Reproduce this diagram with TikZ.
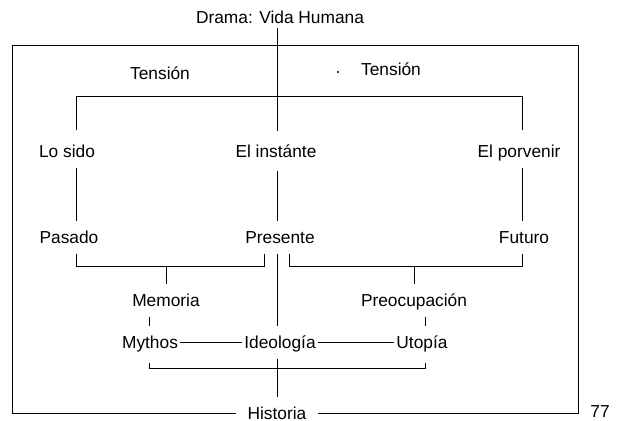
\documentclass[tikz,border=0pt]{standalone}
\usepackage{fontspec}
\setmainfont{Liberation Sans}
\usepackage{xcolor}
\usepackage{tikz}

\begin{document}
\begin{tikzpicture}[x=0.75pt, y=-0.75pt, line width=0.75pt,
	every node/.style={font=\fontsize{13}{15}\selectfont, inner xsep=1.5pt, inner ysep=7.5pt, text height=9pt, text depth=0pt}]
					\useasboundingbox (0, 0) rectangle (618, 421);
					
					\begin{scope}[
						lbl/.style={align=center}]
						\node[lbl, inner ysep=3.5pt] (drama) at (280, 17) {Drama: Vida Humana};
						\node[lbl] (tenL) at (160, 73) {Tensión};
						\node[lbl] (tenR) at (391, 69) {Tensión};
						\node[lbl] (losido) at (67, 151) {Lo sido};
						\node[lbl, inner ysep=10pt] (instante) at (276, 151) {El instánte};
						\node[lbl] (porvenir) at (519, 151) {El porvenir};
						\node[lbl] (pasado) at (69, 237) {Pasado};
						\node[lbl] (presente) at (280, 237) {Presente};
						\node[lbl] (futuro) at (524, 237) {Futuro};
						\node[lbl] (memoria) at (166, 300) {Memoria};
						\node[lbl] (preocup) at (414, 300) {Preocupación};
						\node[lbl] (mythos) at (150, 342) {Mythos};
						\node[lbl] (ideologia) at (280, 342) {Ideología};
						\node[lbl] (utopia) at (422, 342) {Utopía};
						\node[lbl, inner xsep=8.5pt] (historia) at (277, 413) {Historia};
						\node[lbl] (page) at (600, 411) {77};
					\end{scope}
					
					\coordinate (colL) at (76, 0);
					\coordinate (colM) at (277, 0);
					\coordinate (colR) at (522, 0);
					\coordinate (colMy) at (149, 0);
					\coordinate (colU) at (425, 0);
					\coordinate (boxTL) at (12, 45);
					\coordinate (boxBR) at (578, 413);
					\coordinate (tL) at (76, 130);
					\coordinate (tR) at (522, 130);
					\coordinate (pL) at (264, 266);
					\coordinate (pR) at (289, 266);
					\coordinate (myB) at (149, 363);
					\coordinate (utB) at (425, 363);
					
					\fill (338, 72) circle[radius=0.8pt];
					
					\draw (historia.west) -| (boxTL) -| (boxBR) -- (historia.east);
					\draw (tL) -- ++(0, -34) -| (tR);
					\draw (drama.south -| colM) -- (instante.north -| colM);
					\draw (losido.south -| colL) -- (pasado.north -| colL);
					\draw (instante.south -| colM) -- (presente.north -| colM);
					\draw (porvenir.south -| colR) -- (futuro.north -| colR);
					\draw (pasado.south -| colL) |- (pL) -- (pL |- presente.south);
					\draw (futuro.south -| colR) |- (pR) -- (pR |- presente.south);
					\draw (memoria.north) -- (memoria.north |- pL);
					\draw (preocup.north) -- (preocup.north |- pR);
					\draw (presente.south -| colM) -- (ideologia.north -| colM);
					\draw (memoria.south -| colMy) -- (mythos.north -| colMy);
					\draw (preocup.south -| colU) -- (utopia.north -| colU);
					\draw (mythos) -- (ideologia);
					\draw (ideologia) -- (utopia);
					\draw (myB) -- ++(0, 5) -| (utB);
					\draw (ideologia.south -| colM) -- (historia.north -| colM);
				\end{tikzpicture}
\end{document}
